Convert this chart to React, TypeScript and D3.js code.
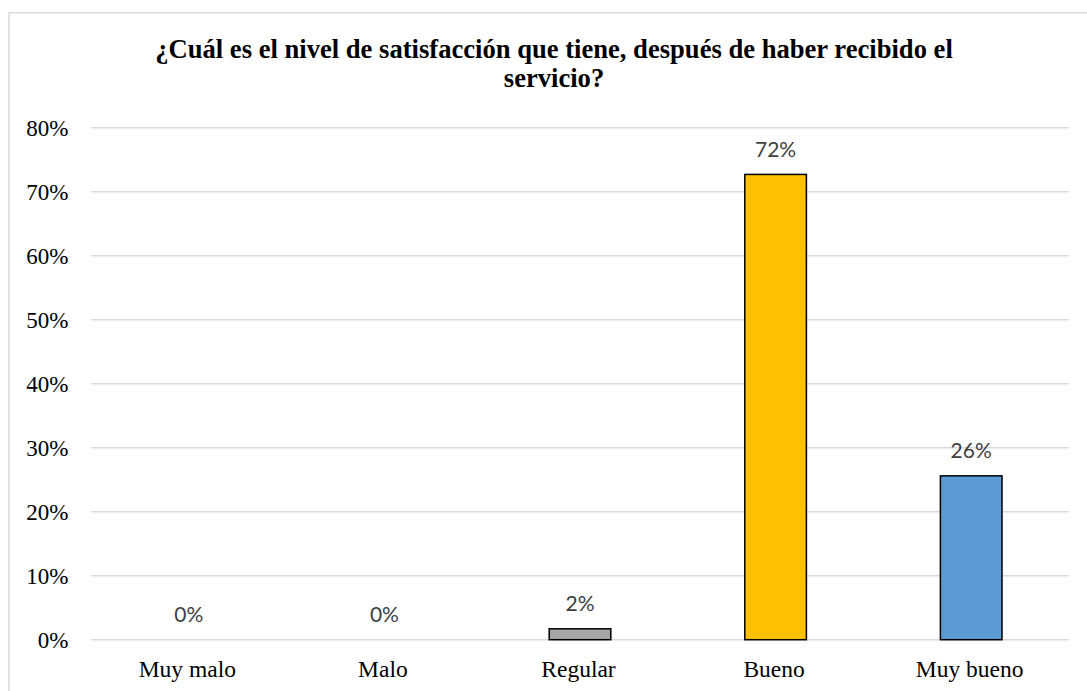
import React from "react";
import * as d3 from "d3";

const categories = ["Muy malo", "Malo", "Regular", "Bueno", "Muy bueno"];
const values = [0, 0, 0.017, 0.727, 0.256];
const valueLabels = ["0%", "0%", "2%", "72%", "26%"];
const barColors = ["#5B9BD5", "#ED7D31", "#A5A5A5", "#FFC000", "#5B9BD5"];
const yTicks = [0, 0.1, 0.2, 0.3, 0.4, 0.5, 0.6, 0.7, 0.8];
const titleLines = [
  "¿Cuál es el nivel de satisfacción que tiene, después de haber recibido el",
  "servicio?",
];

const W = 1087;
const H = 691;

export default function App() {
  const x = d3.scaleBand<string>().domain(categories).range([91, 1069]).padding(0);
  const y = d3.scaleLinear().domain([0, 0.8]).range([639.7, 127.7]);
  const bw = x.bandwidth() * 0.315;
  const fmt = d3.format(".0%");
  const serif = "Liberation Serif";
  const sans = "Lato";

  return (
    <svg
      width={W}
      height={H}
      style={{ position: "absolute", left: 0, top: 0, background: "#fff" }}
    >
      <rect x={9} y={12.7} width={W + 20} height={H + 20} fill="#fff" stroke="#d9d9d9" strokeWidth={1.5} />
      {titleLines.map((t, i) => (
        <text
          key={i}
          x={554}
          y={58.3 + i * 28.4}
          textAnchor="middle"
          fontFamily={serif}
          fontWeight="bold"
          fontSize={26.6}
          fill="#000"
        >
          {t}
        </text>
      ))}
      {yTicks.map((t) => (
        <g key={t}>
          <line x1={91} x2={1069} y1={y(t)} y2={y(t)} stroke="#d9d9d9" strokeWidth={1.5} />
          <text
            x={68.5}
            y={y(t)}
            dy="0.35em"
            textAnchor="end"
            fontFamily={serif}
            fontSize={23}
            fill="#000"
          >
            {fmt(t)}
          </text>
        </g>
      ))}
      {categories.map((c, i) => {
        const cx = (x(c) as number) + x.bandwidth() / 2;
        const v = values[i];
        const top = y(v);
        return (
          <g key={c}>
            {v > 0 && (
              <rect
                x={cx - bw / 2}
                y={top}
                width={bw}
                height={y(0) - top}
                fill={barColors[i]}
                stroke="#000"
                strokeWidth={1.5}
              />
            )}
            <text
              x={cx}
              y={top - 17.5}
              textAnchor="middle"
              fontFamily={sans}
              fontSize={21}
              fill="#404040"
            >
              {valueLabels[i]}
            </text>
            <text
              x={cx - 1.5}
              y={676.7}
              textAnchor="middle"
              fontFamily={serif}
              fontSize={23.5}
              fill="#000"
            >
              {c}
            </text>
          </g>
        );
      })}
    </svg>
  );
}
